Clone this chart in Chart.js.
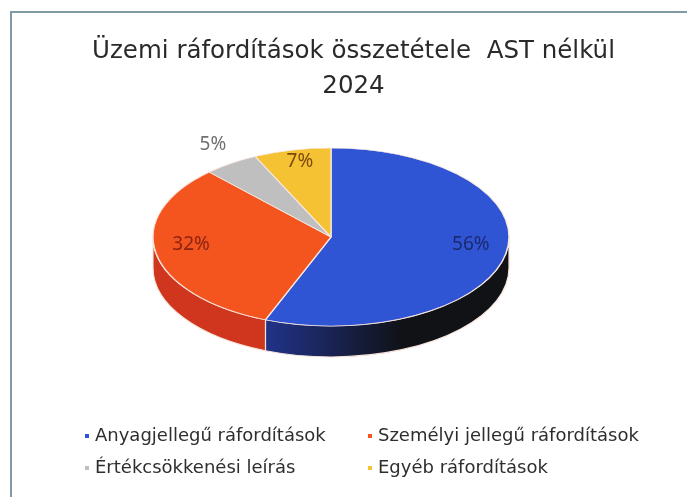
<!DOCTYPE html>
<html>
<head>
<meta charset="utf-8">
<script src="https://cdn.jsdelivr.net/npm/chart.js@4/dist/chart.umd.min.js"></script>
<style>
body{margin:0;background:#fff;}
#wrap{position:relative;width:687px;height:497px;overflow:hidden;background:#fff;}
#frame{position:absolute;left:10px;top:11px;width:720px;height:520px;border-top:2px solid #8299a8;border-left:2px solid #8299a8;}
#myPie{position:absolute;left:0;top:0;}
.item{position:absolute;white-space:nowrap;font-family:'DejaVu Sans';font-size:18px;line-height:20px;color:#2e2e2e;}
.dot{position:absolute;width:4px;height:4px;left:-10px;top:9px;}
</style>
</head>
<body>
<div id="wrap">
  <div id="frame"></div>
  <canvas id="myPie" width="687" height="497"></canvas>
  <div id="legend"></div>
</div>
<script>
// data
const titleLines = ['Üzemi ráfordítások összetétele  AST nélkül', '2024'];
const labels = ['Anyagjellegű ráfordítások', 'Személyi jellegű ráfordítások', 'Értékcsökkenési leírás', 'Egyéb ráfordítások'];
const values = [56, 32, 5, 7];

// colours
const topColors = ['#2f55d4', '#f4541e', '#c0bfc0', '#f5c234'];
const sideColors = [['#22348f', '#101216'], ['#cf361d', '#a82414'], ['#8a8a8a', '#555555'], ['#c99a1f', '#8a6a10']];
const labelColors = ['#1b2a70', '#8c2414', '#707070', '#7a4a0c'];

// ellipse geometry of the 3d pie
const CX = 331, CY = 237, RX = 178, RY = 89, DEPTH = 31;

const pie3d = {
    id: 'pie3d',
    beforeDatasetsDraw(chart) {
        const ctx = chart.ctx;
        const arcs = chart.getDatasetMeta(0).data;
        // side walls (only the front half is visible)
        arcs.forEach((a, i) => {
            [[0, Math.PI], [2 * Math.PI, 3 * Math.PI]].forEach(([lo, hi]) => {
                const s = Math.max(a.startAngle, lo), e = Math.min(a.endAngle, hi);
                if (e <= s) return;
                const g = ctx.createLinearGradient(CX - RX, 0, CX + RX, 0);
                g.addColorStop(0, sideColors[i][0]);
                g.addColorStop(0.3, sideColors[i][0]);
                g.addColorStop(0.7, sideColors[i][1]);
                g.addColorStop(1, sideColors[i][1]);
                ctx.beginPath();
                ctx.ellipse(CX, CY, RX, RY, 0, s, e);
                ctx.ellipse(CX, CY + DEPTH, RX, RY, 0, e, s, true);
                ctx.closePath();
                ctx.fillStyle = g;
                ctx.fill();
                ctx.strokeStyle = '#f6e3da';
                ctx.lineWidth = 1.2;
                ctx.stroke();
            });
        });
        // squash the top face
        const r = arcs[0].outerRadius;
        ctx.save();
        ctx.translate(CX, CY);
        ctx.scale(RX / r, RY / r);
        ctx.translate(-arcs[0].x, -arcs[0].y);
    },
    afterDatasetsDraw(chart) {
        const ctx = chart.ctx;
        ctx.restore();
        const arcs = chart.getDatasetMeta(0).data;
        ctx.save();
        ctx.font = '19px "Noto Sans"';
        ctx.textAlign = 'center';
        ctx.textBaseline = 'middle';
        arcs.forEach((a, i) => {
            const mid = (a.startAngle + a.endAngle) / 2;
            const outside = values[i] < 6;
            const f = outside ? 1.18 : 0.8;
            const x = CX + Math.cos(mid) * RX * f;
            const y = CY + Math.sin(mid) * RY * f - 6;
            ctx.fillStyle = labelColors[i];
            ctx.fillText(values[i] + '%', x, y);
        });
        ctx.restore();
    }
};

const ctx = document.getElementById('myPie');

new Chart(ctx, {
    type: 'pie',
    data: {
        labels: labels,
        datasets: [{
            data: values,
            backgroundColor: topColors,
            borderColor: '#f8e6de',
            borderWidth: 1.5,
            clip: false
        }]
    },
    options: {
        responsive: false,
        animation: false,
        layout: {
            padding: { left: 20, right: 0, top: 0, bottom: 0 }
        },
        plugins: {
            legend: { display: false },
            tooltip: { enabled: false },
            title: {
                display: true,
                text: titleLines,
                color: '#2a2a2a',
                font: { family: 'DejaVu Sans', size: 24.5, weight: 'normal', lineHeight: 1.42 },
                padding: { top: 34, bottom: 10 }
            }
        }
    },
    plugins: [pie3d]
});

// legend, two columns
const legendX = [95, 378];
const legendY = [425, 457];
const legend = document.getElementById('legend');
labels.forEach((lab, i) => {
    const d = document.createElement('div');
    d.className = 'item';
    d.style.left = legendX[i % 2] + 'px';
    d.style.top = legendY[Math.floor(i / 2)] + 'px';
    d.textContent = lab;
    const b = document.createElement('span');
    b.className = 'dot';
    b.style.background = topColors[i];
    d.appendChild(b);
    legend.appendChild(d);
});
</script>
</body>
</html>
